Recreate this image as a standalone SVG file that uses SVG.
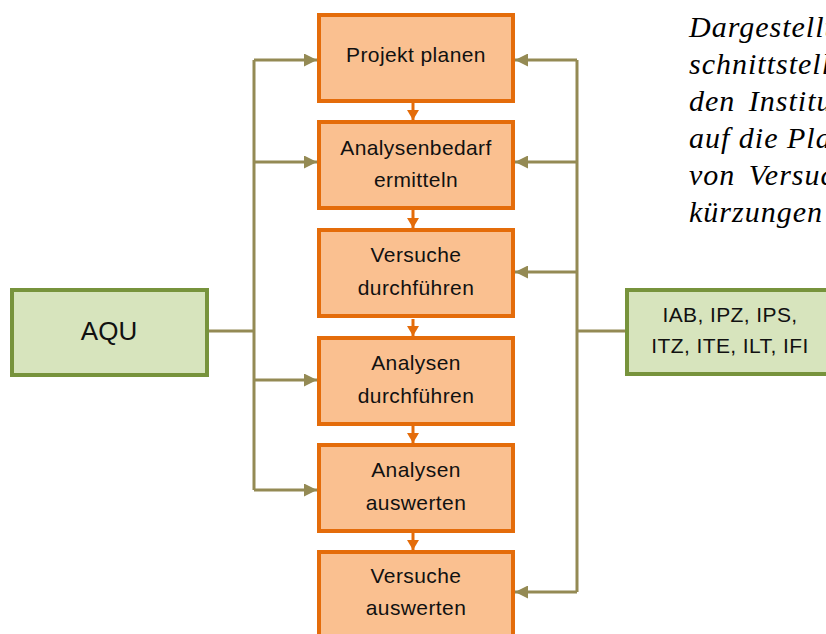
<svg xmlns="http://www.w3.org/2000/svg" width="826" height="634" viewBox="0 0 826 634">
<style>
.step rect{fill:#FAC090;stroke:#E46C0A;stroke-width:4}
.org rect{fill:#D7E4BD;stroke:#77933C;stroke-width:4}
.t{font-family:"Liberation Sans",Arial,sans-serif;font-size:21px;fill:#111;text-anchor:middle;letter-spacing:0.4px}
.big{font-size:26px;letter-spacing:0}
.note{font-family:"Liberation Serif","Times New Roman",serif;font-style:italic;font-size:30px;fill:#000;letter-spacing:1px}
.ol{stroke:#948A54;stroke-width:3;fill:none}
.or{stroke:#E46C0A;stroke-width:3;fill:none}
</style>
<defs>
<marker id="ah" markerUnits="userSpaceOnUse" markerWidth="13" markerHeight="13" refX="13" refY="6.5" orient="auto">
<path d="M0,0 L13,6.5 L0,13 z" fill="#948A54"/>
</marker>
<marker id="ao" markerUnits="userSpaceOnUse" markerWidth="10" markerHeight="12" refX="10" refY="6" orient="auto">
<path d="M0,0 L10,6 L0,12 z" fill="#E46C0A"/>
</marker>
</defs>
<rect width="826" height="634" fill="#fff"/>
<g id="connectors">
<path class="ol" d="M207,331 H254 M254,60 V490"/>
<line class="ol" x1="254" y1="60" x2="317" y2="60" marker-end="url(#ah)"/>
<line class="ol" x1="254" y1="162" x2="317" y2="162" marker-end="url(#ah)"/>
<line class="ol" x1="254" y1="380" x2="317" y2="380" marker-end="url(#ah)"/>
<line class="ol" x1="254" y1="490" x2="317" y2="490" marker-end="url(#ah)"/>
<path class="ol" d="M627,331 H577 M577,60 V592"/>
<line class="ol" x1="577" y1="60" x2="515" y2="60" marker-end="url(#ah)"/>
<line class="ol" x1="577" y1="162" x2="515" y2="162" marker-end="url(#ah)"/>
<line class="ol" x1="577" y1="272" x2="515" y2="272" marker-end="url(#ah)"/>
<line class="ol" x1="577" y1="592" x2="515" y2="592" marker-end="url(#ah)"/>
<line class="or" x1="413" y1="103" x2="413" y2="120" marker-end="url(#ao)"/>
<line class="or" x1="413" y1="210" x2="413" y2="228" marker-end="url(#ao)"/>
<line class="or" x1="413" y1="319" x2="413" y2="336" marker-end="url(#ao)"/>
<line class="or" x1="413" y1="426" x2="413" y2="443" marker-end="url(#ao)"/>
<line class="or" x1="413" y1="533" x2="413" y2="550" marker-end="url(#ao)"/>
</g>
<g id="n1" class="step"><rect x="319" y="15" width="194" height="86"/><text class="t" x="416" y="62">Projekt planen</text></g>
<g id="n2" class="step"><rect x="319" y="122" width="194" height="86"/><text class="t" x="416" y="155">Analysenbedarf</text><text class="t" x="416" y="187">ermitteln</text></g>
<g id="n3" class="step"><rect x="319" y="230" width="194" height="86"/><text class="t" x="416" y="262">Versuche</text><text class="t" x="416" y="295">durchführen</text></g>
<g id="n4" class="step"><rect x="319" y="338" width="194" height="86"/><text class="t" x="416" y="370">Analysen</text><text class="t" x="416" y="403">durchführen</text></g>
<g id="n5" class="step"><rect x="319" y="445" width="194" height="86"/><text class="t" x="416" y="477">Analysen</text><text class="t" x="416" y="510">auswerten</text></g>
<g id="n6" class="step"><rect x="319" y="552" width="194" height="90"/><text class="t" x="416" y="583">Versuche</text><text class="t" x="416" y="615">auswerten</text></g>
<g id="aqu" class="org"><rect x="12" y="290" width="195" height="85"/><text class="t big" x="109" y="340">AQU</text></g>
<g id="inst" class="org"><rect x="627" y="290" width="210" height="84"/><text class="t" x="730" y="322">IAB, IPZ, IPS,</text><text class="t" x="730" y="353">ITZ, ITE, ILT, IFI</text></g>
<g id="note">
<text class="note" x="689" y="37">Dargestellt</text>
<text class="note" x="689" y="74">schnittstell</text>
<text class="note" x="689" y="111" word-spacing="5">den Institu</text>
<text class="note" x="689" y="148">auf die Pla</text>
<text class="note" x="689" y="185" word-spacing="5">von Versuc</text>
<text class="note" x="689" y="222">kürzungen</text>
</g>
</svg>
